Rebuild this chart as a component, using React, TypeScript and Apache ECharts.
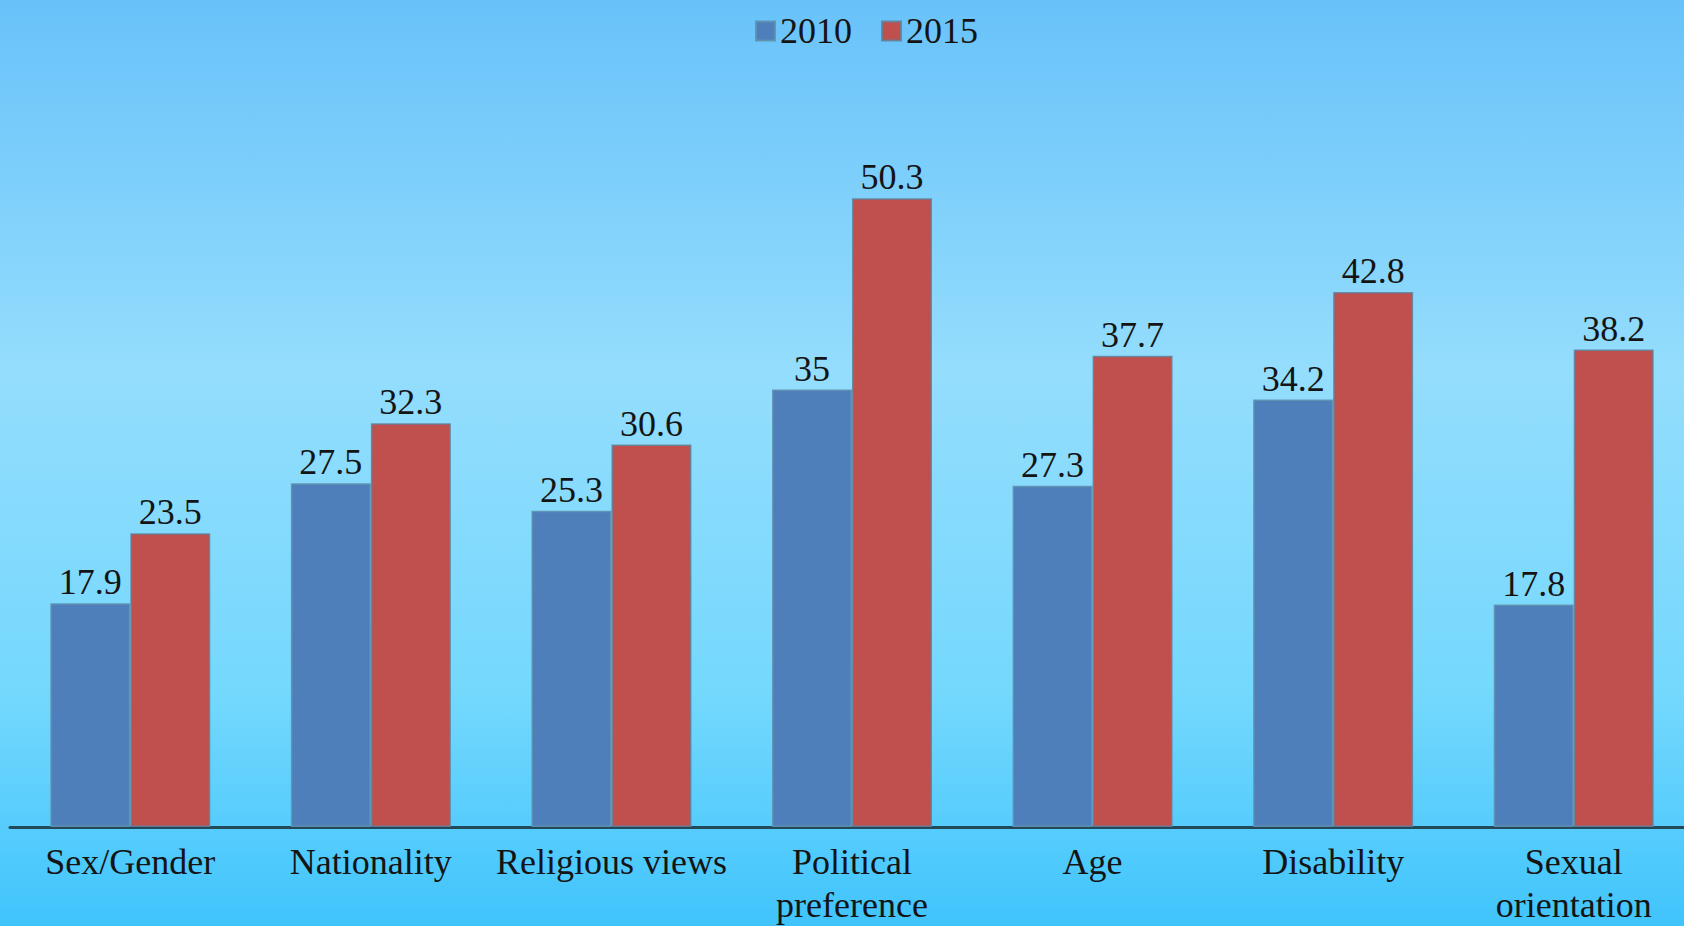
import React, { useEffect, useRef } from "react";
import * as echarts from "echarts";

const categories = [
  "Sex/Gender",
  "Nationality",
  "Religious views",
  "Political\npreference",
  "Age",
  "Disability",
  "Sexual\norientation",
];
const values2010 = [17.9, 27.5, 25.3, 35, 27.3, 34.2, 17.8];
const values2015 = [23.5, 32.3, 30.6, 50.3, 37.7, 42.8, 38.2];
const seriesNames = ["2010", "2015"];

const FONT = "'Liberation Serif', 'Times New Roman', serif";

export default function App() {
  const ref = useRef<HTMLDivElement>(null);
  useEffect(() => {
    if (!ref.current) return;
    const chart = echarts.init(ref.current, null, { renderer: "svg" });
    const labelStyle = {
      show: true,
      position: "top" as const,
      distance: 3,
      fontFamily: FONT,
      fontSize: 36,
      color: "#141414",
    };
    chart.setOption({
      animation: false,
      backgroundColor: new echarts.graphic.LinearGradient(0, 0, 0, 1, [
        { offset: 0, color: "#68c2f9" },
        { offset: 0.4, color: "#94ddfd" },
        { offset: 0.75, color: "#74d8fd" },
        { offset: 1, color: "#40c4fc" },
      ]),
      legend: {
        data: seriesNames,
        top: 8,
        left: 750,
        icon: "rect",
        itemWidth: 19,
        itemHeight: 19,
        itemGap: 29,
        textStyle: { fontFamily: FONT, fontSize: 36, color: "#141414" },
      },
      grid: { left: 10, right: 26, top: 77, bottom: 99, containLabel: false },
      xAxis: {
        type: "category",
        data: categories,
        axisLine: { show: true, lineStyle: { color: "#22485a", width: 3 } },
        axisTick: { show: false },
        axisLabel: {
          interval: 0,
          fontFamily: FONT,
          fontSize: 36,
          lineHeight: 43,
          color: "#141414",
          margin: 13,
        },
      },
      yAxis: {
        type: "value",
        min: 0,
        max: 60,
        show: false,
        splitLine: { show: false },
      },
      series: [
        {
          name: seriesNames[0],
          type: "bar",
          data: values2010,
          barWidth: 80,
          barGap: "0%",
          itemStyle: {
            color: "#4f7fbb",
            borderColor: "rgba(95,145,175,0.9)",
            borderWidth: 1.5,
          },
          label: labelStyle,
        },
        {
          name: seriesNames[1],
          type: "bar",
          data: values2015,
          barWidth: 80,
          barGap: "0%",
          itemStyle: {
            color: "#c0504d",
            borderColor: "rgba(95,130,155,0.85)",
            borderWidth: 1.5,
          },
          label: labelStyle,
        },
      ],
    });
    return () => chart.dispose();
  }, []);
  return (
    <div
      style={{
        position: "absolute",
        left: 0,
        top: 0,
        width: 1684,
        height: 926,
        overflow: "hidden",
      }}
    >
      <div ref={ref} style={{ width: 1720, height: 926 }} />
    </div>
  );
}
